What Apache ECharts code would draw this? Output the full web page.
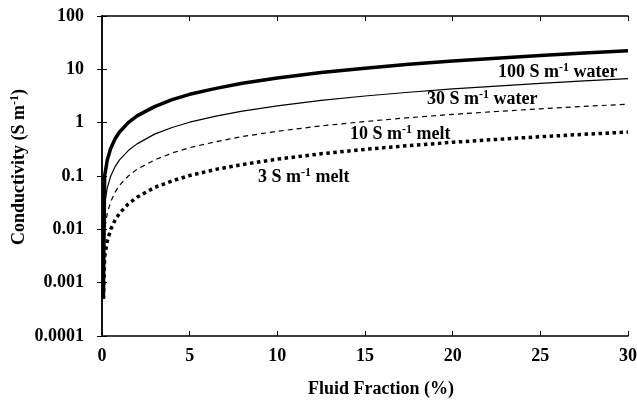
<!DOCTYPE html>
<html>
<head>
<meta charset="utf-8">
<script src="https://cdn.jsdelivr.net/npm/echarts@6/dist/echarts.min.js"></script>
<style>
  html, body { margin: 0; padding: 0; background: #fff; }
  #chart { width: 637px; height: 404px; }
</style>
</head>
<body>
<div id="chart"></div>
<script>
// fluid fraction (%) sampled along the curves
const fraction = [0.08, 0.15, 0.3, 0.5, 0.75, 1, 1.5, 2, 3, 4, 5, 6.5, 8, 10, 12.5, 15, 17.5, 20, 22.5, 25, 27.5, 30]
// bulk conductivity (S/m)
const water100 = [0.0005, 0.10, 0.20, 0.33, 0.50, 0.67, 1.0, 1.34, 2.0, 2.7, 3.4, 4.4, 5.5, 6.9, 8.7, 10.5, 12.4, 14.3, 16.2, 18.2, 20.2, 22.2]
const water30 = [0.0005, 0.030, 0.060, 0.10, 0.15, 0.20, 0.30, 0.40, 0.61, 0.81, 1.02, 1.33, 1.64, 2.07, 2.61, 3.16, 3.72, 4.29, 4.86, 5.45, 6.05, 6.67]
const melt10 = [0.0005, 0.010, 0.020, 0.033, 0.050, 0.067, 0.10, 0.134, 0.20, 0.27, 0.34, 0.44, 0.55, 0.69, 0.87, 1.05, 1.24, 1.43, 1.62, 1.82, 2.02, 2.22]
const melt3 = [0.0005, 0.003, 0.006, 0.010, 0.015, 0.020, 0.030, 0.040, 0.061, 0.081, 0.102, 0.133, 0.164, 0.207, 0.261, 0.316, 0.372, 0.429, 0.486, 0.545, 0.605, 0.667]
const yTickLabels = ['0.0001', '0.001', '0.01', '0.1', '1', '10', '100']

const pairs = (ys) => fraction.map((x, i) => [x, ys[i]])

const font = 'Liberation Serif, Times New Roman, serif'
const richSup = {
  n: { fontFamily: font, fontWeight: 'bold', fontSize: 18, lineHeight: 21, color: '#000' },
  sup: { fontFamily: font, fontWeight: 'bold', fontSize: 12, lineHeight: 12, verticalAlign: 'top', color: '#000' }
}

function curveLabel (left, top, num, kind) {
  return {
    type: 'text',
    left: left,
    top: top,
    style: {
      text: '{n|' + num + ' S m}{sup|-1}{n| ' + kind + '}',
      rich: richSup
    }
  }
}

const chart = echarts.init(document.getElementById('chart'))
const axisLine = { lineStyle: { color: '#000', width: 1.5 } }
const tick = { inside: true, length: 5, lineStyle: { color: '#000' } }
const option = {
  animation: false,
  grid: { left: 102, right: 9, top: 16, bottom: 68, containLabel: false, outerBoundsMode: 'none' },
  xAxis: [
    {
      type: 'value',
      min: 0,
      max: 30,
      interval: 5,
      name: 'Fluid Fraction (%)',
      nameLocation: 'middle',
      nameGap: 44,
      nameMoveOverlap: false,
      nameTextStyle: { fontFamily: font, fontWeight: 'bold', fontSize: 18, color: '#000', padding: [0, 0, 0, 32] },
      axisLine: axisLine,
      axisTick: tick,
      axisLabel: { fontFamily: font, fontWeight: 'bold', fontSize: 18, color: '#000', margin: 11 },
      splitLine: { show: false }
    },
    {
      type: 'value',
      position: 'top',
      min: 0,
      max: 30,
      interval: 5,
      axisLine: axisLine,
      axisTick: tick,
      axisLabel: { show: false },
      splitLine: { show: false }
    }
  ],
  yAxis: [
    {
      type: 'log',
      logBase: 10,
      min: 0.0001,
      max: 100,
      name: '{n|Conductivity (S m}{sup|-1}{n|)}',
      nameLocation: 'middle',
      nameRotate: 90,
      nameGap: 72,
      nameMoveOverlap: false,
      nameTextStyle: { rich: richSup, padding: [0, 0, 0, 18] },
      axisLine: axisLine,
      axisTick: tick,
      axisLabel: {
        fontFamily: font,
        fontWeight: 'bold',
        fontSize: 18,
        color: '#000',
        margin: 18,
        formatter: (v) => yTickLabels[Math.round(Math.log10(v)) + 4]
      },
      splitLine: { show: false }
    },
    {
      type: 'log',
      logBase: 10,
      min: 0.0001,
      max: 100,
      position: 'right',
      axisLine: axisLine,
      axisTick: tick,
      axisLabel: { show: false },
      splitLine: { show: false }
    }
  ],
  series: [
    {
      name: '100 S/m water',
      type: 'line',
      data: pairs(water100),
      showSymbol: false,
      lineStyle: { color: '#000', width: 3.5 }
    },
    {
      name: '30 S/m water',
      type: 'line',
      data: pairs(water30),
      showSymbol: false,
      lineStyle: { color: '#000', width: 1.2 }
    },
    {
      name: '10 S/m melt',
      type: 'line',
      data: pairs(melt10),
      showSymbol: false,
      lineStyle: { color: '#000', width: 1.2, type: [5, 4] }
    },
    {
      name: '3 S/m melt',
      type: 'line',
      data: pairs(melt3),
      showSymbol: false,
      lineStyle: { color: '#000', width: 3.5, type: [3.5, 3.5], cap: 'butt' }
    }
  ],
  graphic: [
    curveLabel(498, 62, '100', 'water'),
    curveLabel(427, 89, '30', 'water'),
    curveLabel(350, 124, '10', 'melt'),
    curveLabel(258, 167, '3', 'melt')
  ]
}
chart.setOption(option)
</script>
</body>
</html>
